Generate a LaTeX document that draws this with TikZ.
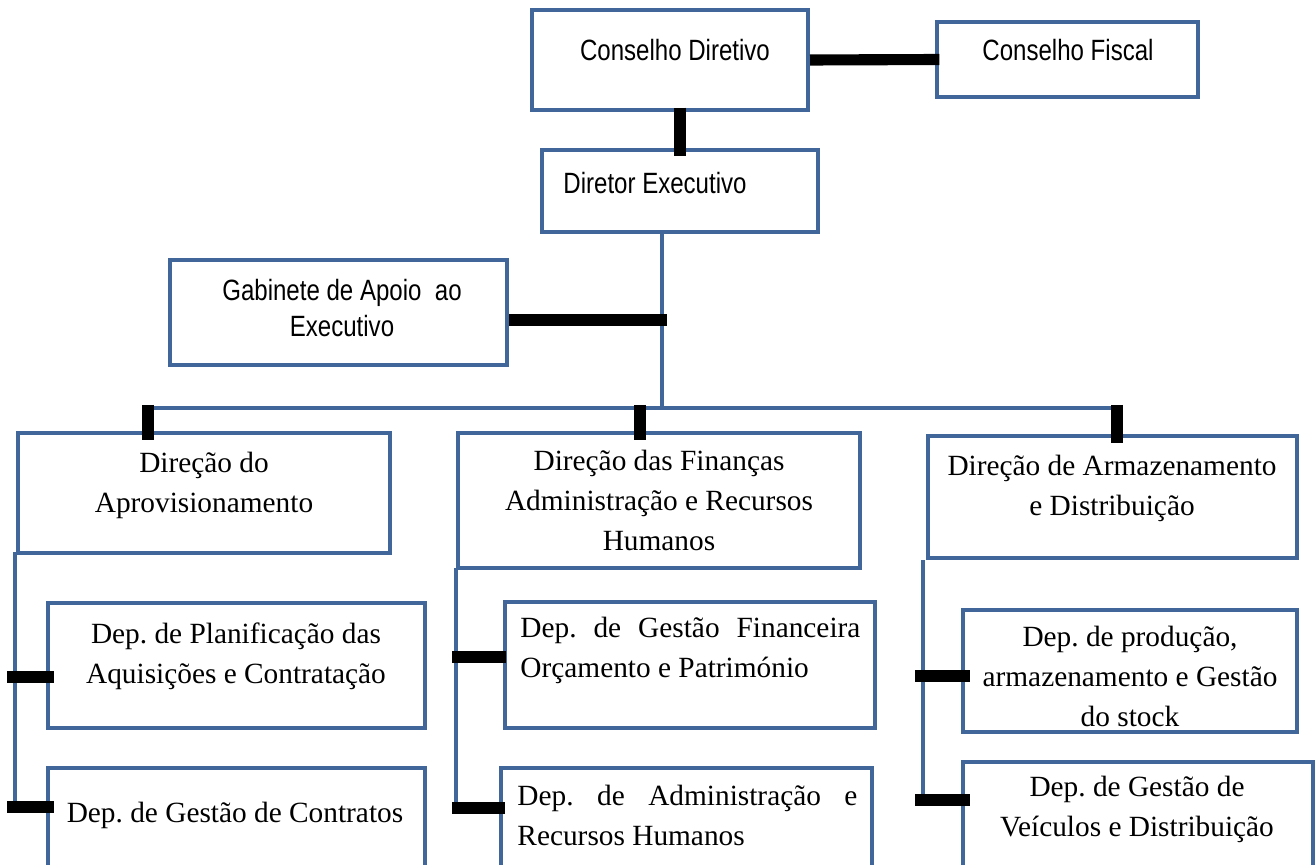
\documentclass[tikz,border=0pt]{standalone}
\usepackage{fontspec}
\setmainfont{Liberation Serif}
\newfontfamily\narrowsf[FakeStretch=0.82]{Liberation Sans}
\usetikzlibrary{fit,calc}
\definecolor{orgblue}{HTML}{41679A}
\tikzset{
  box/.style  ={draw=orgblue, line width=1.8pt, inner sep=0pt},
  txt/.style  ={align=center, font=\fontsize{13.2}{18}\selectfont, inner sep=0pt},
  stxt/.style ={align=center, font=\narrowsf\fontsize{13.2}{16.6}\selectfont, inner sep=0pt},
  wire/.style ={draw=orgblue, line width=1.6pt},
  bar/.style  ={draw=black, line width=5pt},
}

\begin{document}
\frenchspacing
\begin{tikzpicture}[x=0.45pt, y=0.45pt]
\useasboundingbox (0,0) rectangle (1316,-865);
\clip (0,0) rectangle (1316,-865);

% top of the chart
\node[box, fit={(532,-10) (808,-110)}] (cd) {};
\node[box, fit={(937,-22) (1198,-97)}] (cf) {};
\node[box, fit={(542,-150) (818,-232)}] (de) {};
\node[box, fit={(170,-260) (507,-365)}] (gab) {};

\node[stxt] (cdt) at (675,-50) {Conselho Diretivo};
\node[stxt] (cft) at (1068,-50) {Conselho Fiscal};
\node[stxt] (det) at (655,-183) {Diretor Executivo};
\node[stxt] (gabt) at (342,-308) {Gabinete de Apoio\ \ ao\\Executivo};

% direcoes
\node[box, fit={(18,-433) (390,-553)}] (dA) {};
\node[box, fit={(458,-433) (860,-568)}] (dB) {};
\node[box, fit={(928,-436) (1297,-558)}] (dC) {};

\node[txt] (dAt) at (204,-485) {Direção do\\Aprovisionamento};
\node[txt] (dBt) at (659,-500) {Direção das Finanças\\Administração e Recursos\\Humanos};
\node[txt] (dCt) at (1112,-488) {Direção de Armazenamento\\e Distribuição};

% departamentos
\node[box, fit={(48,-603) (425,-728)}] (pA1) {};
\node[box, fit={(48,-768) (425,-890)}] (pA2) {};
\node[box, fit={(505,-602) (875,-728)}] (pB1) {};
\node[box, fit={(501,-768) (872,-890)}] (pB2) {};
\node[box, fit={(963,-610) (1297,-732)}] (pC1) {};
\node[box, fit={(963,-762) (1313,-890)}] (pC2) {};

\node[txt] (pA1t) at (236,-656) {Dep. de Planificação das\\Aquisições e Contratação};
\node[txt] (pA2t) at (235,-815) {Dep. de Gestão de Contratos};
\node[txt, align=left, anchor=west] (pB1t) at (520,-650)
  {\makebox[153pt][s]{Dep. de Gestão Financeira}\\Orçamento e Património};
\node[txt, align=left, anchor=west] (pB2t) at (517,-815)
  {\makebox[153pt][s]{Dep. de Administração e}\\Recursos Humanos};
\node[txt] (pC1t) at (1130,-676) {Dep. de produção,\\armazenamento e Gestão\\do stock};
\node[txt] (pC2t) at (1137,-809) {Dep. de Gestão de\\Veículos e Distribuição};

% ligacoes
\coordinate (hub) at (662,-408);
\coordinate (gabj) at (667,-320);
\coordinate (tA) at (148,-408);
\coordinate (tB) at (640,-408);
\coordinate (tC) at (1117,-408);

\draw[bar] (cd.east) -- ([xshift=2pt]cf.west);
\draw[bar] ([yshift=2pt]cd.south -| de.north) -- ([yshift=-3.6pt]de.north);
\draw[wire] (de.south -| hub) -- (hub);
\draw[bar] (gab.east |- gabj) -- (gabj);
\draw[wire] (tA) -- (tC);
\draw[bar] ([yshift=1.4pt]tA) -- ([yshift=-4pt]tA |- dA.north);
\draw[bar] ([yshift=1.4pt]tB) -- ([yshift=-4pt]tB |- dB.north);
\draw[bar] ([yshift=1.4pt]tC) -- ([yshift=-4pt]tC |- dC.north);

\coordinate (sA) at (15,-552);
\coordinate (sB) at (456,-568);
\coordinate (sC) at (923,-560);
\coordinate (kA1) at (7,-677);
\coordinate (kA2) at (7,-807);
\coordinate (kB1) at (452,-657);
\coordinate (kB2) at (452,-808);
\coordinate (kC1) at (915,-676);
\coordinate (kC2) at (915,-800);

\draw[wire] (sA) -- (sA |- kA2);
\draw[wire] (sB) -- (sB |- kB2);
\draw[wire] (sC) -- (sC |- kC2);
\draw[bar] (kA1) -- ([xshift=3.6pt]kA1 -| pA1.west);
\draw[bar] (kA2) -- ([xshift=3.6pt]kA2 -| pA2.west);
\draw[bar] (kB1) -- ([xshift=1.4pt]kB1 -| pB1.west);
\draw[bar] (kB2) -- ([xshift=2.6pt]kB2 -| pB2.west);
\draw[bar] (kC1) -- ([xshift=4pt]kC1 -| pC1.west);
\draw[bar] (kC2) -- ([xshift=4pt]kC2 -| pC2.west);

\end{tikzpicture}
\end{document}
